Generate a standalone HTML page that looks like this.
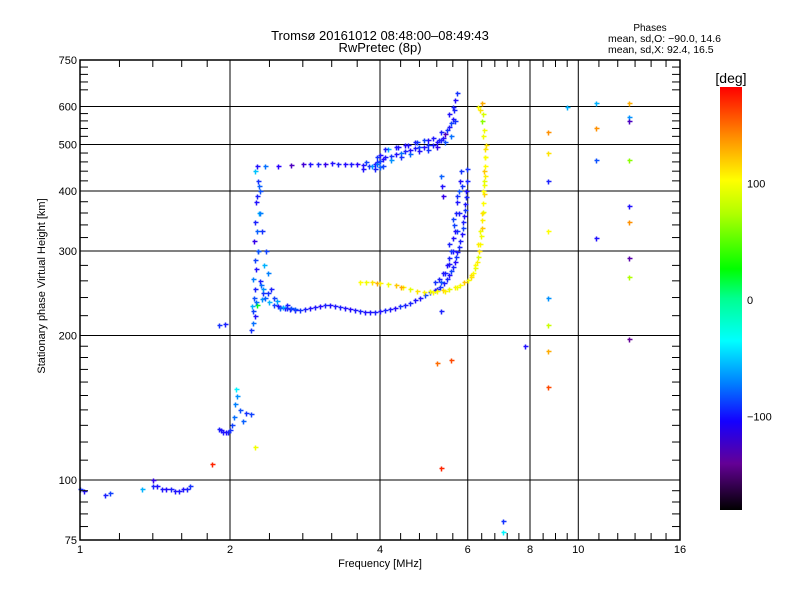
<!DOCTYPE html>
<html><head><meta charset="utf-8"><style>
html,body{margin:0;padding:0;background:#fff;}
svg{display:block;font-family:"Liberation Sans",sans-serif;}
</style></head><body>
<svg id="chart" width="800" height="600" viewBox="0 0 800 600" xmlns="http://www.w3.org/2000/svg">
<rect x="0" y="0" width="800" height="600" fill="#fff"/>
<defs>
<linearGradient id="cb" x1="0" y1="1" x2="0" y2="0">
<stop offset="0" stop-color="#000"/>
<stop offset="0.11" stop-color="#640096"/>
<stop offset="0.21" stop-color="#1400ff"/>
<stop offset="0.30" stop-color="#0080ff"/>
<stop offset="0.40" stop-color="#00ffff"/>
<stop offset="0.50" stop-color="#00ff90"/>
<stop offset="0.57" stop-color="#00ff00"/>
<stop offset="0.70" stop-color="#b0ff00"/>
<stop offset="0.78" stop-color="#ffff00"/>
<stop offset="0.88" stop-color="#ff9000"/>
<stop offset="1" stop-color="#ff0000"/>
</linearGradient>
</defs>
<g id="grid"></g>
<g id="marks"></g>
<g id="axes"></g>
<text x="380" y="40" text-anchor="middle" font-size="13">Tromsø 20161012 08:48:00–08:49:43</text>
<text x="380" y="52" text-anchor="middle" font-size="13">RwPretec (8p)</text>
<text x="650" y="31" text-anchor="middle" font-size="10">Phases</text>
<text x="608" y="42" font-size="10.5">mean, sd,O: −90.0, 14.6</text>
<text x="608" y="53" font-size="10.5">mean, sd,X:  92.4, 16.5</text>
<text x="45" y="286" text-anchor="middle" font-size="11" transform="rotate(-90 45 286)">Stationary phase Virtual Height [km]</text>
<text x="380" y="567" text-anchor="middle" font-size="11">Frequency [MHz]</text>
<rect x="720" y="87" width="22" height="423" fill="url(#cb)"/>
<text x="731" y="83" text-anchor="middle" font-size="14">[deg]</text>
<g id="cbticks"></g>
</svg>
<script>
const xTicks=[1,2,4,6,8,10,16];
const xGrid=[2,4,6,8,10];
const xMinor=[1.2,1.4,1.6,1.8,2.4,2.8,3.2,3.6,4.4,4.8,5.2,5.6,6.4,6.8,7.2,7.6,8.5,9,9.5,11,12,13,14,15];
const yTicks=[75,100,200,300,400,500,600,750];
const yGrid=[100,200,300,400,500,600];
const yMinor=[80,85,90,95,110,120,130,140,150,160,170,180,190,220,240,260,280,320,340,360,380,420,440,460,480,520,540,560,580,650,675,700,725];
const cbTicks=[100,0,-100];
const freq=[
2.52,2.58,2.64,2.70,2.76,2.83,2.90,2.96,3.03,3.10,3.17,3.25,3.33,3.40,3.48,3.56,3.65,3.73,3.82,3.91,4.0,4.1,4.19,4.29,4.39,4.49,4.59,4.70,4.81,4.92,5.04,5.16,5.28,5.37,5.45,5.50,5.55,5.60,5.65,5.68,5.72,5.76,5.80,5.83,5.86,5.88,5.90,5.92,5.93,5.95,5.96,5.97,5.99,5.5,5.4,5.6,5.7,5.75,5.85,5.3,5.2,
2.27,2.35,2.5,2.65,2.8,2.9,3.0,3.1,3.2,3.3,3.4,3.5,3.6,3.7,3.8,3.85,3.9,3.95,4.0,4.05,4.1,4.2,4.3,4.4,4.5,4.6,4.7,4.8,4.9,5.0,5.1,5.2,5.3,5.35,5.4,5.45,5.5,5.55,5.6,5.62,5.65,5.7,4.15,4.35,4.55,4.75,5.0,5.25,3.95,4.0,
2.20,2.22,2.24,2.21,2.23,2.25,2.22,2.26,2.24,2.28,2.23,2.27,2.25,2.29,2.26,2.30,2.28,2.24,2.31,2.33,2.32,2.27,2.35,2.40,2.45,2.50,2.55,2.60,2.70,2.38,2.42,2.48,2.36,2.52,
3.65,3.75,3.85,3.95,4.0,4.15,4.3,4.45,4.6,4.75,4.9,5.05,5.2,5.35,5.5,5.65,5.8,5.9,6.0,6.08,6.15,6.2,6.25,6.29,6.32,6.35,6.38,6.40,6.42,6.44,6.45,6.47,6.48,6.49,6.5,6.5,6.5,6.48,6.45,6.35,6.4,6.3,6.42,
1.0,1.02,1.12,1.15,1.4,1.43,1.46,1.49,1.52,1.55,1.58,1.61,1.64,1.66,1.33,1.40,
1.90,1.92,1.94,1.96,1.98,2.0,2.02,2.04,2.05,2.07,2.09,2.12,2.15,2.2,2.06,1.90,1.95,1.84,2.25,
5.3,5.55,5.3,5.2,7.06,7.06,7.82,8.69,8.69,8.69,8.69,8.69,8.69,8.69,8.69,9.49,10.85,10.85,10.85,10.85,12.64,12.64,12.64,12.64,12.64,12.64,12.64,12.64,12.64,5.35,5.3,5.32,
3.9,3.95,4.0,4.05,4.1,4.2,4.3,4.4,4.5,4.6,4.7,4.8,4.9,5.0,5.1,5.2,5.3,5.4,5.5,5.55,5.6,5.65,3.7,3.75,
5.5,5.55,5.6,5.62,5.68,5.72,5.75,5.78,5.82,5.5,5.6,5.65,5.7,5.35,5.25,5.15,5.45,
6.3,6.35,6.4,6.45,6.46,6.48,6.2,6.1,5.7,5.4,5.1,4.4,6.5,6.52,6.45,
2.22,2.26,2.3,2.34,2.28,2.32,2.3,2.27,2.29,2.33,2.38,2.45,2.6,2.65];
const height=[
229,228,227,226,226,227,228,229,230,231,231,230,229,228,227,226,225,224,224,224,225,226,227,228,230,232,234,237,240,243,246,249,253,257,262,267,272,278,285,291,298,306,315,325,335,345,355,365,375,388,400,420,445,282,270,300,330,360,410,258,250,
452,450,452,454,455,455,456,456,457,456,455,455,455,453,452,450,456,460,462,466,470,474,478,481,485,488,492,494,495,498,500,505,510,517,525,535,545,555,565,590,620,640,490,495,500,505,510,512,470,448,
205,212,220,230,240,250,262,275,288,300,315,330,345,360,380,400,420,440,255,245,238,232,240,235,232,230,229,228,227,270,250,236,300,228,
258,259,258,257,257,256,255,253,250,248,247,248,248,249,250,252,255,258,261,265,270,277,285,292,300,310,322,335,348,362,378,395,412,430,450,470,490,535,580,590,610,600,560,
96,95,93,94,97,97,96,96,96,95,95,96,96,97,96,100,
128,127,126,126,126,127,130,135,144,150,140,133,138,137,155,210,211,108,117,
225,178,106,175,82,78,190,530,480,420,330,240,210,186,156,600,610,540,465,320,610,570,560,465,372,345,290,265,197,390,430,410,
445,455,475,450,490,465,495,470,500,478,505,485,510,488,515,495,530,505,580,520,600,560,445,460,
290,300,320,340,360,380,400,420,440,310,350,330,390,270,262,258,280,
310,330,360,400,420,440,280,268,252,248,246,252,470,500,520,
225,235,260,280,300,330,360,390,410,250,245,240,232,228];
const phase=[
-105,-110,-108,-112,-100,-106,-110,-108,-112,-105,-110,-108,-106,-110,-112,-108,-105,-110,-108,-106,-110,-104,-108,-112,-100,-106,-104,-110,-108,-95,-105,-110,-100,-108,-104,-110,-95,-105,-112,-100,-108,-104,-106,-110,-95,-105,-110,-100,-108,-104,-110,-105,-100,-108,-104,-110,-95,-106,-100,-90,-108,
-110,-80,-115,-130,-125,-110,-105,-120,-110,-105,-112,-108,-115,-110,-100,-70,-110,-105,-95,-112,-108,-100,-110,-80,-105,-112,-108,-95,-110,-100,-108,-112,-105,-110,-130,-100,-108,-95,-110,-105,-112,-100,-60,-110,-108,-95,-112,-105,-100,-85,
-100,-80,-110,-60,-90,-105,-75,-110,-95,-70,-120,-85,-105,-60,-110,-90,-100,-55,-80,-100,-70,20,-85,-60,-95,-110,-60,-100,-90,-75,-105,-65,-95,-85,
100,95,110,130,105,95,120,100,90,110,105,95,100,115,90,105,100,120,95,110,100,90,105,85,110,100,95,120,105,90,100,115,95,105,100,90,110,95,85,110,130,100,60,
-100,-110,-105,-95,-105,-110,-108,-112,-105,-110,-108,-110,-105,-100,-60,-120,
-105,-110,-108,-112,-105,-100,-95,-80,-75,-70,-90,-85,-100,-95,-40,-100,-105,170,95,
-105,160,170,150,-100,-40,-110,140,110,-105,100,-70,80,130,160,-60,-60,140,-90,-110,130,-70,-130,60,-110,140,-135,70,-140,-120,-85,-110,
-105,-80,-110,-95,-105,-70,-108,-100,-112,-85,-105,-110,-95,-100,-108,-120,-105,-90,-110,-80,-105,-100,-110,-95,
-105,-100,-110,-95,-105,-108,-90,-110,-100,-105,-95,-110,-100,-108,-105,-100,-110,
105,95,110,100,90,120,100,110,95,105,100,130,100,110,95,
-95,-80,-105,-60,-90,-100,-75,-105,-85,-70,-100,-95,-105,-90];

const X0=80,X1=680,Y0=60,Y1=540;
function xs(f){return X0+(X1-X0)*Math.log2(f)/4;}
function ys(h){return Y1-(Y1-Y0)*Math.log10(h/75);}
function cbY(p){return 300-p*1.165;}
const stops=[[-180,[0,0,0]],[-140,[100,0,150]],[-115,[40,0,255]],[-100,[20,50,255]],[-75,[0,128,255]],[-37,[0,255,255]],[0,[0,255,144]],[25,[0,255,0]],[70,[176,255,0]],[100,[255,255,0]],[140,[255,144,0]],[180,[255,0,0]]];
function col(p){
  for(let i=1;i<stops.length;i++){
    if(p<=stops[i][0]){const a=stops[i-1],b=stops[i];const t=(p-a[0])/(b[0]-a[0]);
      const c=a[1].map((v,k)=>Math.round(v+(b[1][k]-v)*t));return `rgb(${c[0]},${c[1]},${c[2]})`;}
  }
  return 'rgb(255,0,0)';
}
const NS='http://www.w3.org/2000/svg';
function mk(tag,attrs,parent){const e=document.createElementNS(NS,tag);for(const k in attrs)e.setAttribute(k,attrs[k]);parent.appendChild(e);return e;}
const grid=document.getElementById('grid'),axes=document.getElementById('axes'),marks=document.getElementById('marks'),cbt=document.getElementById('cbticks');
xGrid.forEach(v=>{const l=mk('line',{x1:xs(v),x2:xs(v),y1:Y0,y2:Y1,stroke:'#000','stroke-width':1},grid);

});
yGrid.forEach(v=>{const l=mk('line',{x1:X0,x2:X1,y1:ys(v),y2:ys(v),stroke:'#000','stroke-width':1},grid);

});
for(let i=0;i<freq.length;i++){
  const x=Math.round(xs(freq[i]))+0.5,y=Math.round(ys(height[i]))+0.5,c=col(phase[i]);
  const p=mk('path',{d:`M${x-2},${y}H${x+3}M${x},${y-2}V${y+3}`,stroke:c,'stroke-width':1.5},marks);
  
  
}
const fr=mk('rect',{x:X0,y:Y0,width:X1-X0,height:Y1-Y0,fill:'none',stroke:'#000','stroke-width':1.5},axes);


xMinor.forEach(v=>{const x=xs(v);
  const a=mk('line',{x1:x,x2:x,y1:Y1,y2:Y1-7,stroke:'#000'},axes);
  
  
  const b=mk('line',{x1:x,x2:x,y1:Y0,y2:Y0+7,stroke:'#000'},axes);
  
  });
yMinor.forEach(v=>{const y=ys(v);
  const a=mk('line',{x1:X0,x2:X0+8,y1:y,y2:y,stroke:'#000'},axes);
  
  
  const b=mk('line',{x1:X1,x2:X1-8,y1:y,y2:y,stroke:'#000'},axes);
  
  });
xTicks.forEach(v=>{const t=mk('text',{x:xs(v),y:553,'text-anchor':'middle','font-size':11},axes);t.textContent=v;
  
  });
yTicks.forEach(v=>{const t=mk('text',{x:X0-3,y:ys(v)+4,'text-anchor':'end','font-size':11},axes);t.textContent=v;
  
  });
cbTicks.forEach(v=>{const t=mk('text',{x:747,y:cbY(v)+4,'font-size':11},cbt);t.textContent=(v<0?'−'+(-v):v);
  
  });
</script>
</body></html>
